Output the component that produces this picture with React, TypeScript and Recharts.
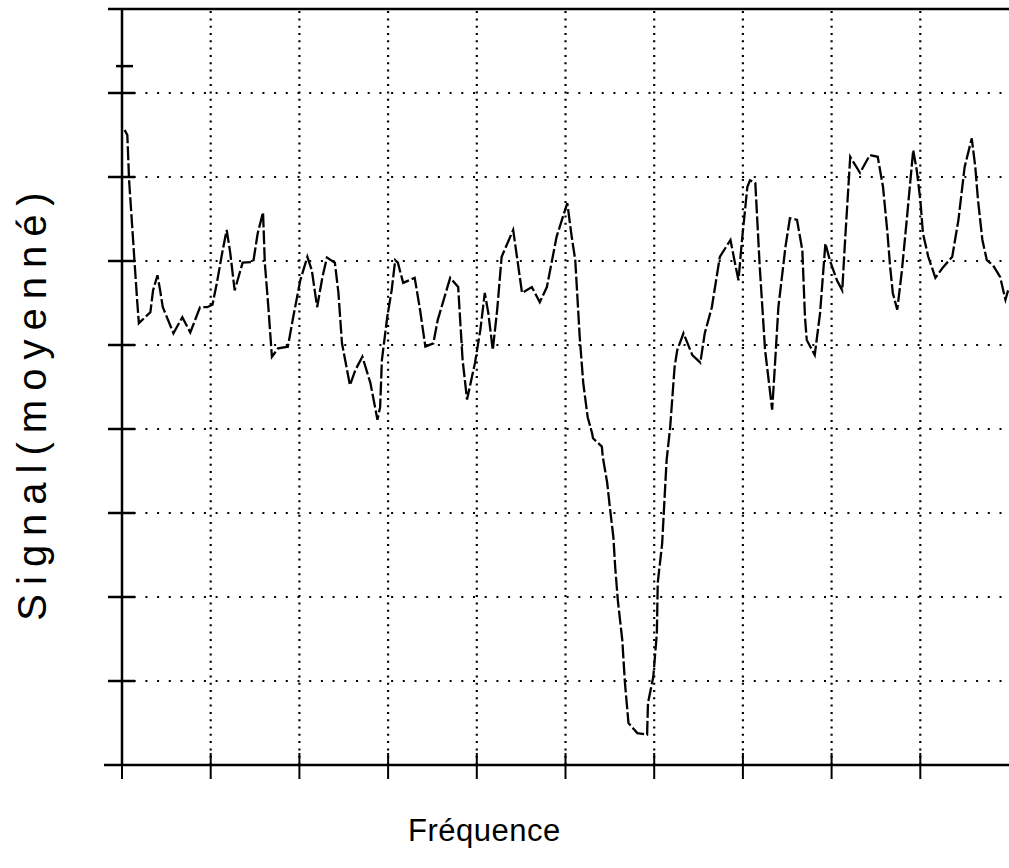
import React from "react";
import { LineChart, Line, XAxis, YAxis, ReferenceLine, Label } from "recharts";

const freq: number[] = [
  0.03, 0.06, 0.08, 0.11, 0.14, 0.17, 0.19, 0.32, 0.35, 0.4, 0.43, 0.46, 0.58, 0.68, 0.77, 0.88, 0.96, 1.02, 1.07, 1.13,
  1.18, 1.22, 1.27, 1.36, 1.48, 1.53, 1.59, 1.61, 1.65, 1.69, 1.76, 1.87, 1.93, 2.01, 2.09, 2.14, 2.2, 2.26, 2.31, 2.4,
  2.44, 2.48, 2.57, 2.63, 2.71, 2.8, 2.88, 2.91, 2.93, 2.99, 3.04, 3.08, 3.11, 3.17, 3.3, 3.36, 3.42, 3.51, 3.56, 3.7,
  3.79, 3.84, 3.89, 3.98, 4.04, 4.09, 4.13, 4.18, 4.23, 4.28, 4.41, 4.51, 4.62, 4.71, 4.79, 4.9, 5.02, 5.07, 5.11, 5.16,
  5.2, 5.25, 5.3, 5.31, 5.41, 5.42, 5.47, 5.5, 5.54, 5.56, 5.59, 5.64, 5.67, 5.71, 5.81, 5.92, 5.93, 5.99, 6.03, 6.04,
  6.09, 6.12, 6.14, 6.18, 6.23, 6.26, 6.33, 6.43, 6.52, 6.57, 6.65, 6.74, 6.86, 6.91, 6.95, 6.99, 7.05, 7.08, 7.14, 7.19,
  7.25, 7.33, 7.36, 7.4, 7.48, 7.53, 7.61, 7.67, 7.7, 7.72, 7.81, 7.87, 7.93, 7.98, 8.06, 8.12, 8.15, 8.21, 8.32, 8.43,
  8.52, 8.58, 8.63, 8.66, 8.69, 8.74, 8.79, 8.85, 8.92, 8.96, 9.0, 9.03, 9.09, 9.17, 9.26, 9.36, 9.43, 9.5, 9.58, 9.62,
  9.65, 9.7, 9.75, 9.82, 9.9, 9.96, 9.99,
];

const signal: number[] = [
  7.56, 7.5, 6.96, 6.49, 6.01, 5.54, 5.26, 5.39, 5.65, 5.83, 5.65, 5.45, 5.14, 5.33, 5.15, 5.45, 5.45, 5.48, 5.74, 6.1,
  6.37, 6.1, 5.65, 5.98, 5.99, 6.33, 6.58, 5.98, 5.45, 4.86, 4.96, 4.98, 5.33, 5.77, 6.05, 5.89, 5.45, 5.81, 6.04, 5.98,
  5.62, 5.02, 4.52, 4.7, 4.86, 4.55, 4.11, 4.26, 4.82, 5.33, 5.65, 6.01, 5.98, 5.74, 5.8, 5.42, 4.98, 5.02, 5.3, 5.8,
  5.69, 4.82, 4.35, 4.79, 5.18, 5.62, 5.38, 4.94, 5.42, 6.05, 6.37, 5.62, 5.69, 5.51, 5.69, 6.29, 6.69, 6.29, 6.01, 5.1,
  4.55, 4.14, 3.95, 3.89, 3.79, 3.67, 3.36, 3.07, 2.71, 2.36, 1.96, 1.49, 0.98, 0.5, 0.38, 0.36, 0.74, 1.05, 1.57, 2.17,
  2.64, 3.24, 3.63, 4.02, 4.74, 4.94, 5.14, 4.88, 4.79, 5.14, 5.45, 6.05, 6.25, 5.98, 5.77, 6.25, 6.88, 6.96, 6.93, 5.93,
  4.94, 4.23, 4.74, 5.45, 6.17, 6.51, 6.49, 6.13, 5.33, 5.06, 4.88, 5.38, 6.21, 6.01, 5.77, 5.65, 6.21, 7.24, 7.05, 7.26,
  7.24, 6.88, 6.33, 5.93, 5.62, 5.42, 5.86, 6.52, 7.32, 7.08, 6.73, 6.33, 6.05, 5.8, 5.93, 6.05, 6.49, 7.12, 7.46, 7.12,
  6.73, 6.25, 6.01, 5.95, 5.81, 5.54, 5.65,
];

const xGrid: number[] = [1, 2, 3, 4, 5, 6, 7, 8, 9];
const yGrid: number[] = [1, 2, 3, 4, 5, 6, 7, 8];
const xTicks: number[] = [0, 1, 2, 3, 4, 5, 6, 7, 8, 9];
const yTicks: number[] = [0, 1, 2, 3, 4, 5, 6, 7, 8, 8.32, 9];
const xTitle = "Fréquence";
const yTitle = "Signal(moyenné)";

const data = freq.map((f, i) => ({ f, s: signal[i] }));

const FONT = "'Liberation Sans', Arial, sans-serif";

const YTick = (props: any) => {
  const { x, y, payload } = props;
  const v = payload.value;
  let x1 = x - 14;
  let x2 = x + 13;
  if (v === 0) { x1 = x - 18; x2 = x; }
  else if (v === 9) { x1 = x - 14; x2 = x; }
  else if (v === 8.32) { x1 = x - 6; x2 = x + 11; }
  return <line x1={x1} x2={x2} y1={y} y2={y} stroke="#000" strokeWidth={2.5} />;
};

const XTick = (props: any) => {
  const { x, y, payload } = props;
  const v = payload.value;
  const y1 = v === 0 ? y : y - 12;
  return <line x1={x} x2={x} y1={y1} y2={y + 14} stroke="#000" strokeWidth={2} />;
};

export default function App() {
  return (
    <div style={{ position: "absolute", left: 0, top: 0, background: "#fff" }}>
      <LineChart width={1009} height={868} data={data} margin={{ top: 9, right: 0, bottom: 73, left: 0 }}>
        {xGrid.map((v) => (
          <ReferenceLine key={"gx" + v} x={v} stroke="#000" strokeWidth={2.2} strokeDasharray="2 5.3" />
        ))}
        {yGrid.map((v) => (
          <ReferenceLine key={"gy" + v} y={v} stroke="#000" strokeWidth={2.2} strokeDasharray="2 9.7" />
        ))}
        <ReferenceLine y={9} stroke="#000" strokeWidth={2.5} />
        <XAxis
          dataKey="f"
          type="number"
          domain={[0, 10]}
          ticks={xTicks}
          height={30}
          tickSize={0}
          tickMargin={0}
          tickLine={false}
          axisLine={{ stroke: "#000", strokeWidth: 2.5 }}
          tick={<XTick />}
          interval={0}
        >
          <Label
            content={() => (
              <text x={408} y={841} fontFamily={FONT} fontSize={31} fill="#000" letterSpacing={0.5}>
                {xTitle}
              </text>
            )}
          />
        </XAxis>
        <YAxis
          type="number"
          domain={[0, 9]}
          ticks={yTicks}
          width={122}
          tickSize={0}
          tickMargin={0}
          tickLine={false}
          axisLine={{ stroke: "#000", strokeWidth: 2.5 }}
          tick={<YTick />}
          interval={0}
        >
          <Label
            content={() => (
              <text
                x={0}
                y={0}
                transform="translate(46, 402) rotate(-90)"
                textAnchor="middle"
                fontFamily={FONT}
                fontSize={40}
                fill="#000"
                letterSpacing={9}
              >
                {yTitle}
              </text>
            )}
          />
        </YAxis>
        <Line
          type="linear"
          dataKey="s"
          stroke="#000"
          strokeWidth={2.3}
          strokeDasharray="14 3"
          dot={false}
          isAnimationActive={false}
        />
      </LineChart>
    </div>
  );
}
